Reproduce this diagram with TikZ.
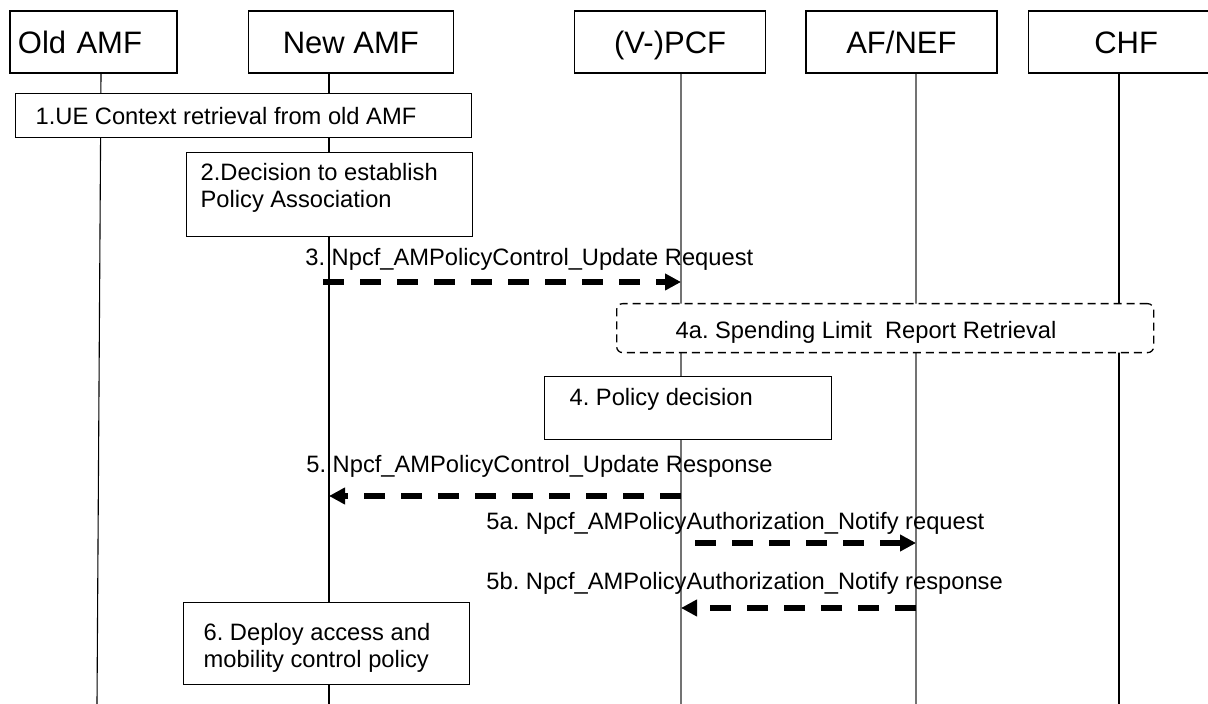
\documentclass[tikz,border=0pt]{standalone}
\usepackage{fontspec}
\setmainfont{Liberation Sans}
\usetikzlibrary{arrows.meta}
\usetikzlibrary{positioning}
\frenchspacing

\newcommand{\bodyfont}{\fontsize{11.85pt}{13.5pt}\selectfont}
\newcommand{\hdrfont}{\fontsize{15.5pt}{18pt}\selectfont}
\newcommand{\steptext}[5]{\parbox[t][#2][t]{#1}{\vspace*{#4}\leftskip=#3\relax\noindent #5}}

\begin{document}
\begin{tikzpicture}[
        x=0.5pt, y=-0.5pt,
        hdr/.style={draw=black, line width=0.65pt, minimum height=31pt, inner xsep=4pt, text height=11.6pt, text depth=0.5pt, font=\hdrfont},
        stepbox/.style={draw=black, fill=white, line width=0.65pt, inner sep=0pt, anchor=north west, font=\bodyfont},
        optbox/.style={stepbox, dash pattern=on 4pt off 2.5pt, rounded corners=3pt},
        life/.style={line width=0.55pt},
        msg/.style={line width=3pt, dash pattern=on 10.5pt off 8pt, -{Triangle[length=8pt,width=8pt]}},
        msglabel/.style={anchor=base west, inner sep=0pt, font=\bodyfont}
    ]
        \useasboundingbox (0,0) rectangle (1208,704);

        \node (oamf) [hdr, text width=75.5pt, align=left] at (93.5,42) {Old AMF};
        \node (namf) [hdr, minimum width=102.5pt, right=35pt of oamf] {New AMF};
        \node (pcf) [hdr, minimum width=95.5pt, right=60pt of namf] {(V-)PCF};
        \node (afnef) [hdr, minimum width=95.5pt, right=19.5pt of pcf] {AF/NEF};
        \node (chf) [hdr, minimum width=98pt, right=15pt of afnef] {CHF};

        \coordinate (oamf-t) at (101,0);
        \coordinate (oamf-b) at (97,704);
        \coordinate (namf-b) at (329,704);
        \coordinate (pcf-b) at (681,704);
        \coordinate (afnef-b) at (916,704);
        \coordinate (chf-b) at (1119,704);

        \draw [life] (oamf.south -| oamf-t) -- (oamf-b);
        \draw [life] (namf.south -| namf-b) -- (namf-b);
        \draw [life,black!55] (pcf.south -| pcf-b) -- (pcf-b);
        \draw [life,black!55] (afnef.south -| afnef-b) -- (afnef-b);
        \draw [life] (chf.south -| chf-b) -- (chf-b);

        \node (s1) [stepbox] at (15,93) {\steptext{228pt}{22pt}{10pt}{7pt}{1.UE Context retrieval from old AMF}};
        \node (s2) [stepbox] at (186,152) {\steptext{143pt}{42pt}{7pt}{5.5pt}{2.Decision to establish\\Policy Association}};
        \node (s4a) [optbox] at (616,303) {\steptext{268.5pt}{24.5pt}{29.5pt}{9pt}{4a. Spending Limit\ \ Report Retrieval}};
        \node (s4) [stepbox] at (544,376) {\steptext{143.5pt}{31.5pt}{12.5pt}{6pt}{4. Policy decision}};
        \node (s6) [stepbox] at (183,602) {\steptext{143pt}{41pt}{10pt}{10.5pt}{6. Deploy access and\\mobility control policy}};

        \coordinate (m3) at (0,282);
        \coordinate (m5) at (0,496);
        \coordinate (m5a) at (0,543);
        \coordinate (m5b) at (0,608);

        \draw [msg] ([xshift=-3pt]namf-b |- m3) -- (pcf-b |- m3);
        \draw [msg] (pcf-b |- m5) -- (namf-b |- m5);
        \draw [msg] ([xshift=7pt]pcf-b |- m5a) -- (afnef-b |- m5a);
        \draw [msg] (afnef-b |- m5b) -- (pcf-b |- m5b);

        \node (l3) [msglabel] at (305,266) {3. Npcf\_AMPolicyControl\_Update Request};
        \node (l5) [msglabel] at (306,473) {5. Npcf\_AMPolicyControl\_Update Response};
        \node (l5a) [msglabel] at (486,530) {5a. Npcf\_AMPolicyAuthorization\_Notify request};
        \node (l5b) [msglabel] at (486,589) {5b. Npcf\_AMPolicyAuthorization\_Notify response};
    \end{tikzpicture}
\end{document}
